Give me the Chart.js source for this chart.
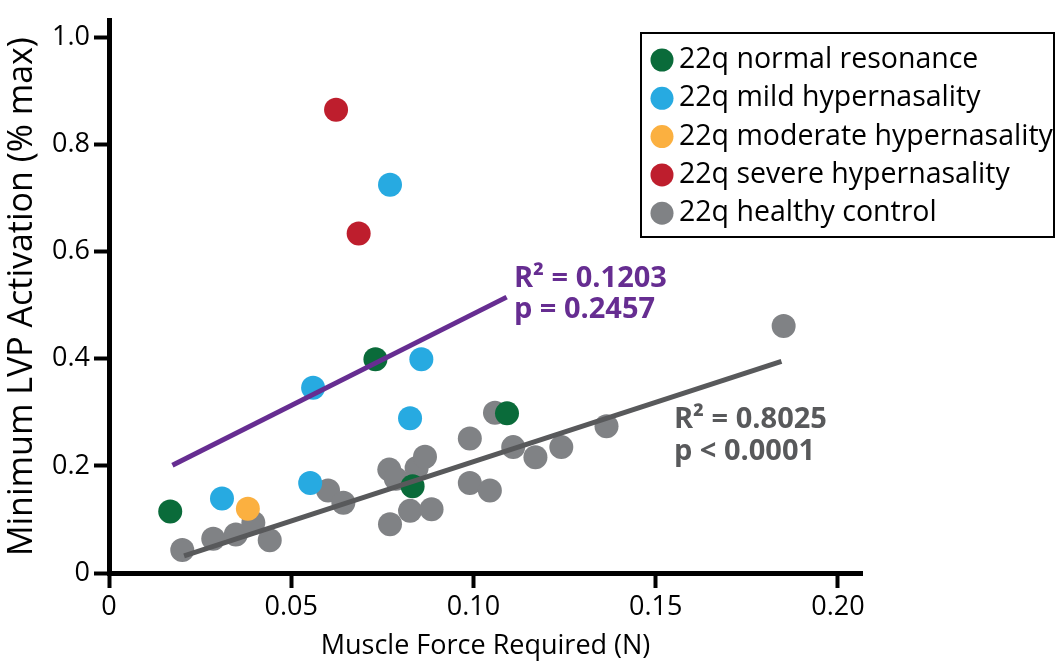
<!DOCTYPE html>
<html>
<head>
<meta charset="utf-8">
<script src="https://cdn.jsdelivr.net/npm/chart.js@4"></script>
<style>
  body { margin: 0; background: #fff; }
  #wrap { width: 1058px; height: 664px; }
</style>
</head>
<body>
<div id="wrap"><canvas id="chart" width="1058" height="664"></canvas></div>
<script>
// group labels (legend order)
const groupLabels = ['22q normal resonance', '22q mild hypernasality', '22q moderate hypernasality', '22q severe hypernasality', '22q healthy control'];
const groupColors = ['#0a6b3a', '#27aae1', '#fbb040', '#be1e2d', '#808285'];

// points: force (N) vs activation
const normalX = [0.0168, 0.0731, 0.0833, 0.1092];
const normalY = [0.115, 0.399, 0.162, 0.298];
const mildX = [0.0310, 0.0552, 0.0560, 0.0771, 0.0826, 0.0857];
const mildY = [0.139, 0.168, 0.346, 0.725, 0.289, 0.399];
const moderateX = [0.0381];
const moderateY = [0.120];
const severeX = [0.0623, 0.0685];
const severeY = [0.865, 0.634];
const healthyX = [0.0201, 0.0286, 0.0348, 0.0396, 0.0441, 0.0601, 0.0643, 0.0771, 0.0769, 0.0787, 0.0826, 0.0885, 0.0844, 0.0867, 0.0990, 0.0990, 0.1045, 0.1059, 0.1109, 0.1170, 0.1241, 0.1365, 0.1851];
const healthyY = [0.043, 0.064, 0.072, 0.094, 0.061, 0.154, 0.131, 0.091, 0.193, 0.176, 0.116, 0.119, 0.196, 0.217, 0.251, 0.168, 0.154, 0.299, 0.235, 0.216, 0.235, 0.274, 0.461];

// regression lines (end points)
const fit22qX = [0.0174, 0.1091];
const fit22qY = [0.201, 0.515];
const fitCtrlX = [0.0206, 0.1845];
const fitCtrlY = [0.032, 0.395];
const fit22qText = ['R² = 0.1203', 'p = 0.2457'];
const fitCtrlText = ['R² = 0.8025', 'p < 0.0001'];

// axes
const xTickValues = [0, 0.05, 0.10, 0.15, 0.20];
const xTickLabels = ['0', '0.05', '0.10', '0.15', '0.20'];
const yTickValues = [0, 0.2, 0.4, 0.6, 0.8, 1.0];
const yTickLabels = ['0', '0.2', '0.4', '0.6', '0.8', '1.0'];

const FONT = "'Open Sans', 'Noto Sans', sans-serif";

const toPts = (xs, ys) => xs.map((x, i) => ({ x: x, y: ys[i] }));

const groups = [
  toPts(normalX, normalY),
  toPts(mildX, mildY),
  toPts(moderateX, moderateY),
  toPts(severeX, severeY),
  toPts(healthyX, healthyY)
];

const scatterSets = groups.map((pts, i) => ({
  type: 'scatter',
  label: groupLabels[i],
  data: pts,
  backgroundColor: groupColors[i],
  borderWidth: 0,
  pointRadius: 12,
  pointHoverRadius: 12,
  order: 1
}));

const lineSets = [
  { type: 'line', label: 'fit 22q', data: toPts(fit22qX, fit22qY), borderColor: '#662d91', borderWidth: 5, pointRadius: 0, fill: false, order: 0 },
  { type: 'line', label: 'fit control', data: toPts(fitCtrlX, fitCtrlY), borderColor: '#58595b', borderWidth: 5, pointRadius: 0, fill: false, order: 0 }
];

// legend box + fit annotations
const extras = {
  id: 'extras',
  afterDraw(chart) {
    const ctx = chart.ctx;
    const xs = chart.scales.x, ys = chart.scales.y;
    ctx.save();

    // legend
    ctx.strokeStyle = '#000';
    ctx.lineWidth = 2;
    ctx.strokeRect(641, 33, 413, 204);
    ctx.font = '28.5px ' + FONT;
    ctx.textBaseline = 'middle';
    ctx.textAlign = 'left';
    groupLabels.forEach((lab, i) => {
      const cy = 60 + i * 38.3;
      ctx.fillStyle = groupColors[i];
      ctx.beginPath();
      ctx.arc(662, cy, 11.5, 0, Math.PI * 2);
      ctx.fill();
      ctx.fillStyle = '#000';
      ctx.fillText(lab, 679, cy);
    });

    // regression stats
    ctx.font = 'bold 29px ' + FONT;
    ctx.textBaseline = 'alphabetic';
    ctx.fillStyle = '#662d91';
    let px = xs.getPixelForValue(0.1111), py = ys.getPixelForValue(0.534);
    fit22qText.forEach((t, i) => ctx.fillText(t, px, py + i * 31));
    ctx.fillStyle = '#58595b';
    px = xs.getPixelForValue(0.1550); py = ys.getPixelForValue(0.271);
    fitCtrlText.forEach((t, i) => ctx.fillText(t, px, py + i * 32));
    ctx.restore();
  }
};

new Chart(document.getElementById('chart'), {
  data: { datasets: scatterSets.concat(lineSets) },
  options: {
    responsive: false,
    animation: false,
    layout: { padding: { top: 12, right: 196, left: 0, bottom: 0 } },
    plugins: { legend: { display: false }, tooltip: { enabled: false } },
    scales: {
      x: {
        type: 'linear',
        min: 0,
        max: 0.2066,
        afterBuildTicks: s => { s.ticks = xTickValues.map(v => ({ value: v })); },
        afterFit: s => { s.height = 91; },
        border: { color: '#000', width: 5 },
        grid: { drawOnChartArea: false, tickLength: 15, tickWidth: 4, tickColor: '#000' },
        ticks: {
          color: '#000', padding: 3,
          font: { family: FONT, size: 27 },
          callback: (v, i) => xTickLabels[i]
        },
        title: {
          display: true, text: 'Muscle Force Required (N)', color: '#000',
          font: { family: FONT, size: 27 }, padding: { top: 0, bottom: 1 }
        }
      },
      y: {
        type: 'linear',
        min: 0,
        max: 1.032,
        afterBuildTicks: s => { s.ticks = yTickValues.map(v => ({ value: v })); },
        afterFit: s => { s.width = 109; },
        border: { color: '#000', width: 5 },
        grid: { drawOnChartArea: false, tickLength: 15, tickWidth: 4, tickColor: '#000' },
        ticks: {
          color: '#000', padding: 4,
          font: { family: FONT, size: 27 },
          callback: (v, i) => yTickLabels[i]
        },
        title: {
          display: true, text: 'Minimum LVP Activation (% max)', color: '#000',
          font: { family: FONT, size: 34 }, padding: { top: 2, bottom: 0 }
        }
      }
    }
  },
  plugins: [extras]
});
</script>
</body>
</html>
